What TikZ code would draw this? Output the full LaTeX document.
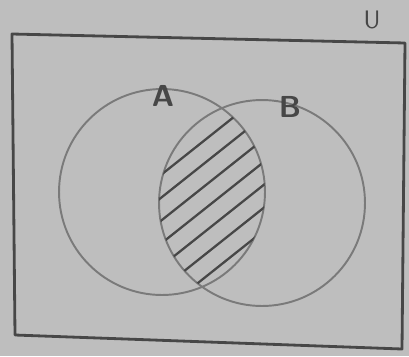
\documentclass[tikz,border=0pt]{standalone}
\usetikzlibrary{positioning, calc}
\definecolor{cpaper}{HTML}{BEBEBE}
\definecolor{cpen}{HTML}{474747}
\definecolor{cpencil}{HTML}{7A7A7A}
\tikzset{
  every picture/.style={font=\sffamily, line width=1.1pt},
  setcircle/.style={draw=cpencil, circle, inner sep=0pt, minimum size=4.12cm, line width=1.1pt},
  setlabel/.style={font=\sffamily\bfseries\LARGE, text=cpen},
  frame/.style={draw=cpen, line width=1.6pt, line join=round},
  hatch/.style={draw=cpen, line width=1.3pt, line cap=round},
}

\begin{document}
\begin{tikzpicture}[x=0.02cm, y=-0.02cm]
  \fill[cpaper] (0,0) rectangle (409,356);
  \useasboundingbox (0,0) rectangle (409,356);
  % universal set
  \draw[frame] (12,34) -- (405,43) -- (402,349) -- (15,335) -- cycle;
  \node[setlabel, font=\sffamily\Large] (labU) at (372,20) {U};
  % the two sets
  \node[setcircle] (A) at (162,192) {};
  \node[setcircle] (B) at (262,203) {};
  \node[setlabel] (labA) at (163,96) {A};
  \node[setlabel] (labB) at (290,107) {B};
  % A intersect B, hatched
  \begin{scope}
    \clip (A.center) circle[radius=103];
    \clip (B.center) circle[radius=103];
    \foreach \k in {-3,...,3} {
      \draw[hatch] ($(212,198)+({(\k*18+4)*0.62},{(\k*18+4)*0.78})+(-120*0.78,120*0.62)$)
        -- ($(212,198)+({(\k*18+4)*0.62},{(\k*18+4)*0.78})+(120*0.78,-120*0.62)$);
    }
  \end{scope}
\end{tikzpicture}
\end{document}
